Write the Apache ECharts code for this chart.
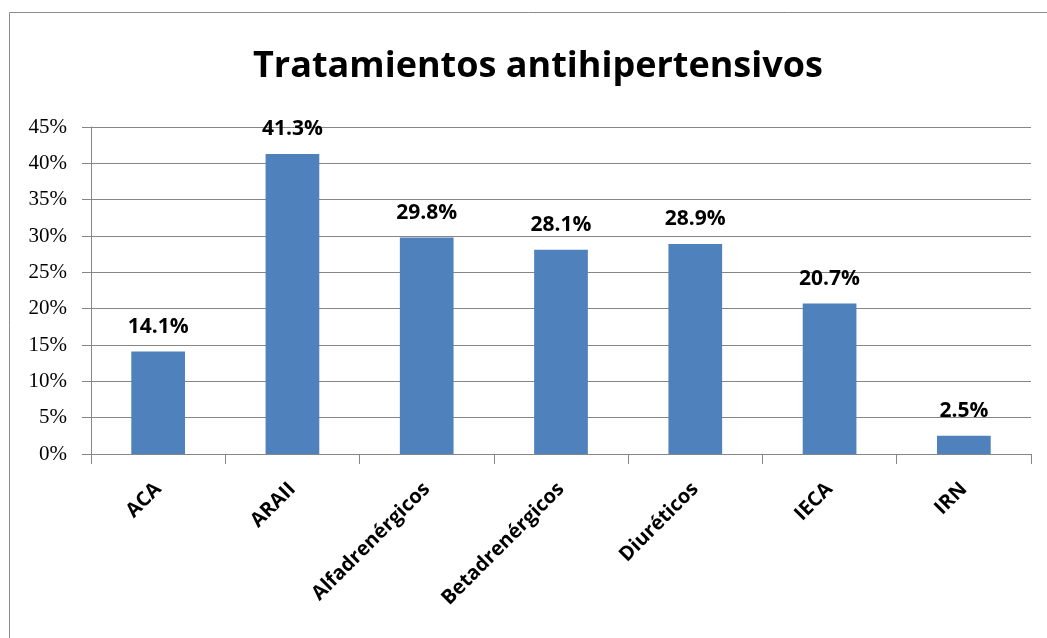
<!DOCTYPE html>
<html><head><meta charset="utf-8">
<script src="https://cdn.jsdelivr.net/npm/echarts@6/dist/echarts.min.js"></script>
<style>html,body{margin:0;padding:0;background:#fff}#c{width:1047px;height:638px}</style>
</head><body><div id="c"></div>
<script>
const title = 'Tratamientos antihipertensivos';
const categories = ['ACA', 'ARAII', 'Alfadrenérgicos', 'Betadrenérgicos', 'Diuréticos', 'IECA', 'IRN'];
const values = [14.1, 41.3, 29.8, 28.1, 28.9, 20.7, 2.5];

const chart = echarts.init(document.getElementById('c'));
chart.setOption({
  animation: false,
  backgroundColor: '#fff',
  graphic: [{
    type: 'rect', shape: {x: 9.5, y: 12.5, width: 1100, height: 700},
    style: {fill: 'none', stroke: '#8c8c8c', lineWidth: 1}, silent: true
  }],
  title: {
    text: title, left: 248, top: 44,
    textStyle: {fontFamily: 'Open Sans', fontWeight: 'bold', fontSize: 36, color: '#000'}
  },
  grid: {left: 91, right: 16, top: 127, bottom: 184},
  xAxis: {
    type: 'category', data: categories,
    axisLine: {lineStyle: {color: '#868686', width: 1}},
    axisTick: {show: true, length: 10, lineStyle: {color: '#868686'}},
    axisLabel: {rotate: 45, margin: 32, fontFamily: 'Open Sans', fontWeight: 'bold', fontSize: 20, color: '#000'}
  },
  yAxis: {
    type: 'value', min: 0, max: 45, interval: 5,
    axisLine: {show: true, lineStyle: {color: '#868686'}},
    axisTick: {show: true, length: 9, lineStyle: {color: '#868686'}},
    splitLine: {lineStyle: {color: '#868686', width: 1}},
    axisLabel: {formatter: '{value}%', margin: 24, fontFamily: 'Liberation Serif', fontSize: 21, color: '#000'}
  },
  series: [{
    type: 'bar', data: values, barWidth: '40%',
    itemStyle: {color: '#4F81BD'},
    label: {show: true, position: 'top', distance: 14, formatter: p => p.value.toFixed(1) + '%',
      fontFamily: 'Open Sans', fontWeight: 'bold', fontSize: 21, color: '#000'}
  }]
});
</script></body></html>
